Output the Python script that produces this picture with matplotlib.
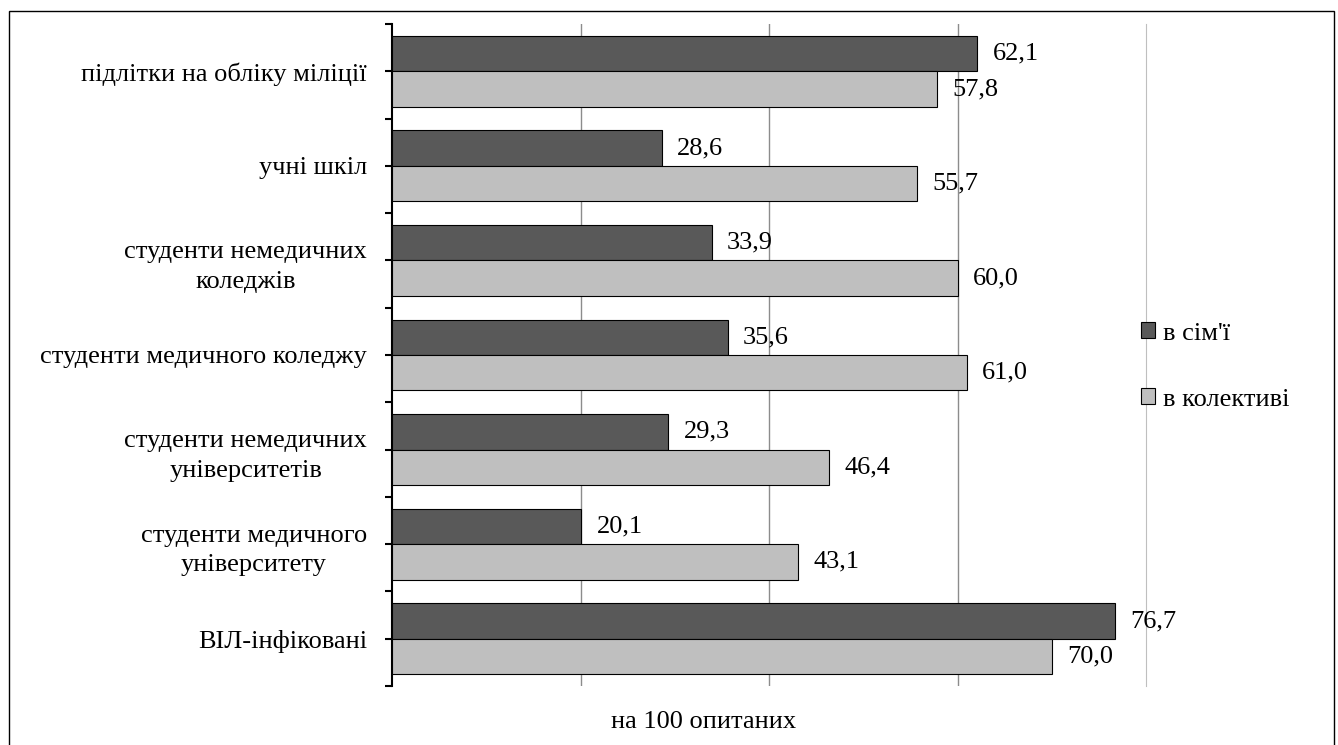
#!/usr/bin/env python3

import numpy as np
import matplotlib.pyplot as plt
from matplotlib.patches import Rectangle

categories = ['підлітки на обліку міліції',
              'учні шкіл',
              'студенти немедичних\nколеджів',
              'студенти медичного коледжу',
              'студенти немедичних\nуніверситетів',
              'студенти медичного\nуніверситету',
              'ВІЛ-інфіковані']
family_vals = [62.1, 28.6, 33.9, 35.6, 29.3, 20.1, 76.7]
team_vals = [57.8, 55.7, 60.0, 61.0, 46.4, 43.1, 70.0]
series_names = ["в сім'ї", 'в колективі']

plt.rcParams['font.family'] = ['Liberation Serif', 'DejaVu Serif']
plt.rcParams['font.size'] = 19

def fmt(v):
  return ('%.1f' % v).replace('.', ',')

def main():
  fig = plt.figure(figsize=(13.38, 7.45), dpi=100)
  ax = fig.add_axes([0.293, 0.0792, 0.5635, 0.8886])

  y = np.arange(len(categories))
  h = 0.375
  b1 = ax.barh(y - h / 2, family_vals, height=h, color='#595959',
               edgecolor='black', linewidth=0.8, label=series_names[0], zorder=3)
  b2 = ax.barh(y + h / 2, team_vals, height=h, color='#bfbfbf',
               edgecolor='black', linewidth=0.8, label=series_names[1], zorder=3)

  # value labels just right of each bar
  for bars, vals in ((b1, family_vals), (b2, team_vals)):
    for rect, v in zip(bars, vals):
      ax.annotate(fmt(v), (v, rect.get_y() + rect.get_height() / 2),
                  xytext=(11, 0), textcoords='offset points',
                  ha='left', va='center', fontsize=19, zorder=4)

  ax.set_xlim(0, 80)
  ax.set_ylim(len(categories) - 0.5, -0.5)
  ax.set_xticks([20, 40, 60])
  ax.tick_params(axis='x', length=0, labelbottom=False)
  ax.grid(axis='x', color='#8c8c8c', linewidth=1, zorder=0)

  ax.set_yticks(y)
  ax.set_yticklabels(categories)
  for lbl in ax.get_yticklabels():
    lbl.set_multialignment('center')
    lbl.set_linespacing(1.45)
  ax.set_yticks(np.arange(-0.5, len(categories)), minor=True)
  ax.tick_params(axis='y', which='both', direction='out', length=5,
                 width=1.5, color='black', pad=13)

  for s in ('top', 'bottom'):
    ax.spines[s].set_visible(False)
  ax.spines['right'].set_color('#bfbfbf')
  ax.spines['left'].set_linewidth(1.5)

  fig.legend(handles=[b1, b2], loc='center left',
             bbox_to_anchor=(0.835, 0.508), frameon=False,
             handlelength=0.55, handleheight=0.55, handletextpad=0.3,
             labelspacing=1.65, fontsize=19)

  fig.text(0.526, 0.031, 'на 100 опитаних', ha='center', va='center',
           fontsize=19)

  # outer border
  fig.patches.append(Rectangle((0.0067, -0.01), 0.9903, 0.9952,
                               transform=fig.transFigure, fill=False,
                               edgecolor='black', linewidth=1))

  fig.savefig('out.png', dpi=100)

if __name__ == '__main__':
  main()
